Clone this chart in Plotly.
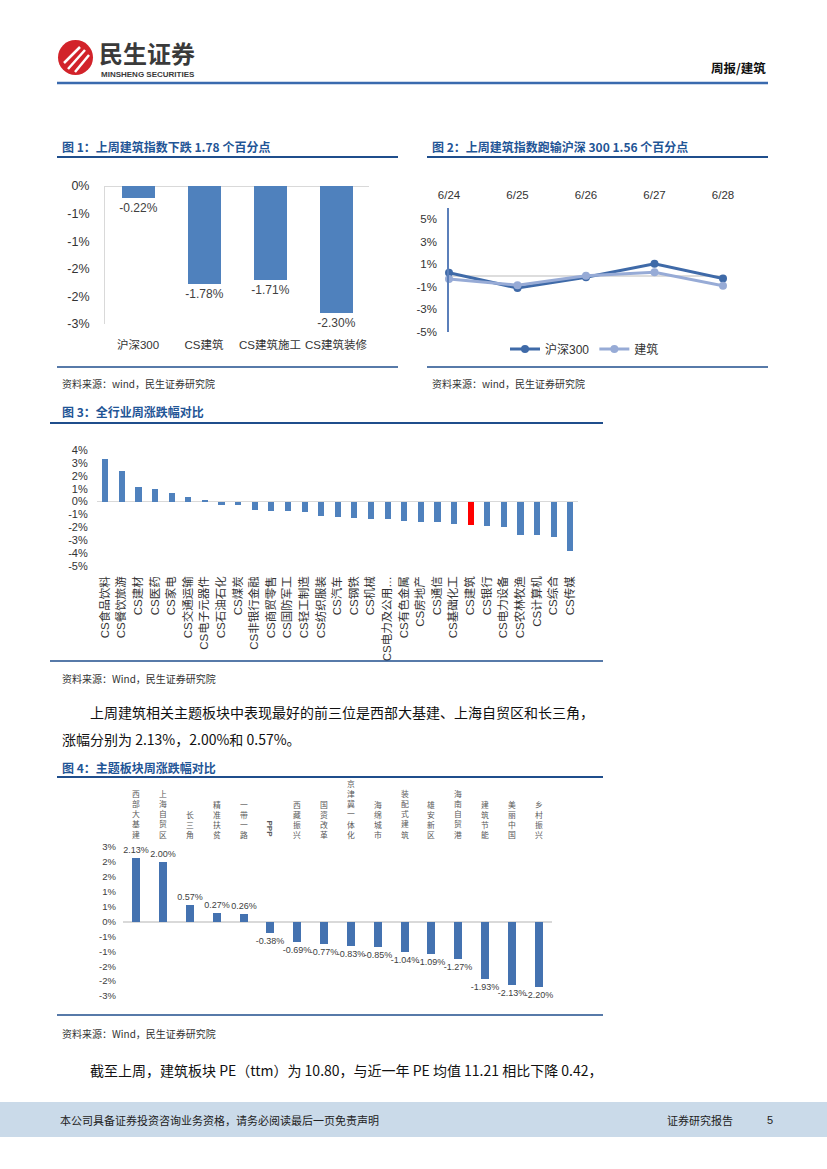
import plotly.graph_objects as go

W, H = 827, 1169


def X(px):
    return px / W


def Y(py):
    return 1 - py / H


FONT = "Arial, 'Liberation Sans', 'Noto Sans CJK SC', sans-serif"
CJK = "'Noto Sans CJK SC', sans-serif"
TITLE_C = "#1F5596"
BLUE = "#4F81BD"

# ---------------- data ----------------
# Chart 1
c1_cats = ["沪深300", "CS建筑", "CS建筑施工", "CS建筑装修"]
c1_vals = [-0.22, -1.78, -1.71, -2.30]
c1_tickvals = [0, -0.5, -1, -1.5, -2, -2.5]
c1_ticktext = ["0%", "-1%", "-1%", "-2%", "-2%", "-3%"]

# Chart 2
c2_dates = ["6/24", "6/25", "6/26", "6/27", "6/28"]
c2_hs300 = [0.25, -1.10, -0.15, 1.05, -0.25]
c2_jz = [-0.30, -0.85, 0.00, 0.30, -0.90]
c2_tickvals = [5, 3, 1, -1, -3, -5]
c2_ticktext = ["5%", "3%", "1%", "-1%", "-3%", "-5%"]

# Chart 3
c3_cats = ["CS食品饮料", "CS餐饮旅游", "CS建材", "CS医药", "CS家电", "CS交通运输",
           "CS电子元器件", "CS石油石化", "CS煤炭", "CS非银行金融", "CS商贸零售",
           "CS国防军工", "CS轻工制造", "CS纺织服装", "CS汽车", "CS钢铁", "CS机械",
           "CS电力及公用…", "CS有色金属", "CS房地产", "CS通信", "CS基础化工",
           "CS建筑", "CS银行", "CS电力设备", "CS农林牧渔", "CS计算机", "CS综合", "CS传媒"]
c3_vals = [3.33, 2.35, 1.11, 0.98, 0.70, 0.34, 0.10, -0.23, -0.26, -0.65, -0.70,
           -0.75, -0.80, -1.11, -1.19, -1.29, -1.32, -1.35, -1.50, -1.58, -1.60, -1.71,
           -1.78, -1.86, -1.96, -2.56, -2.58, -2.76, -3.83]
c3_highlight = "CS建筑"
c3_tickvals = [4, 3, 2, 1, 0, -1, -2, -3, -4, -5]
c3_ticktext = ["4%", "3%", "2%", "1%", "0%", "-1%", "-2%", "-3%", "-4%", "-5%"]

# Chart 4
c4_cats = ["西部大基建", "上海自贸区", "长三角", "精准扶贫", "一带一路", "PPP", "西藏振兴",
           "国资改革", "京津冀一体化", "海绵城市", "装配式建筑", "雄安新区", "海南自贸港",
           "建筑节能", "美丽中国", "乡村振兴"]
c4_vals = [2.13, 2.00, 0.57, 0.27, 0.26, -0.38, -0.69, -0.77, -0.83, -0.85, -1.04,
           -1.09, -1.27, -1.93, -2.13, -2.20]
c4_tickvals = [2.5, 2, 1.5, 1, 0.5, 0, -0.5, -1, -1.5, -2, -2.5]
c4_ticktext = ["3%", "2%", "2%", "1%", "1%", "0%", "-1%", "-1%", "-2%", "-2%", "-3%"]

# ---------------- figure ----------------
fig = go.Figure()

# Chart 1
fig.add_trace(go.Bar(
    x=c1_cats, y=c1_vals, xaxis="x", yaxis="y", width=0.5,
    marker=dict(color=BLUE, line=dict(width=0)),
    texttemplate="%{y:.2f}%", textposition="outside", constraintext="none",
    textfont=dict(family=FONT, size=12, color="#404040"),
    cliponaxis=False, showlegend=False, hoverinfo="skip"))

# Chart 2
fig.add_trace(go.Scatter(
    x=c2_dates, y=c2_hs300, xaxis="x2", yaxis="y2", name="沪深300",
    mode="lines+markers", line=dict(color="#3F6AA8", width=3),
    marker=dict(size=8, color="#3F6AA8"), cliponaxis=False))
fig.add_trace(go.Scatter(
    x=c2_dates, y=c2_jz, xaxis="x2", yaxis="y2", name="建筑",
    mode="lines+markers", line=dict(color="#97ABD6", width=3),
    marker=dict(size=8, color="#97ABD6"), cliponaxis=False))

# Chart 3
c3_colors = ["#FF0000" if c == c3_highlight else BLUE for c in c3_cats]
fig.add_trace(go.Bar(
    x=c3_cats, y=c3_vals, xaxis="x3", yaxis="y3", width=0.37,
    marker=dict(color=c3_colors, line=dict(width=0)),
    showlegend=False, hoverinfo="skip"))

# Chart 4
fig.add_trace(go.Bar(
    x=c4_cats, y=c4_vals, xaxis="x4", yaxis="y4", width=0.3,
    marker=dict(color="#4472B0", line=dict(width=0)),
    texttemplate="%{y:.2f}%", textposition="outside", constraintext="none",
    textfont=dict(family=FONT, size=9, color="#404040"),
    cliponaxis=False, showlegend=False, hoverinfo="skip"))

axis_common = dict(showgrid=False, zeroline=False, ticks="", fixedrange=True,
                   automargin=False)

fig.update_layout(
    template="none",
    width=W, height=H, margin=dict(l=0, r=0, t=0, b=0, pad=0, autoexpand=False),
    paper_bgcolor="white", plot_bgcolor="rgba(0,0,0,0)",
    font=dict(family=FONT, color="#333333"),
    bargap=0,
    xaxis=dict(domain=[X(105), X(369)], anchor="y", range=[-0.5, 3.5],
               type="category", tickangle=0, tickfont=dict(size=11.5, color="#333333"),
               ticklabelstandoff=12, **axis_common),
    yaxis=dict(domain=[Y(324), Y(186)], anchor="x", range=[-2.5, 0],
               tickvals=c1_tickvals, ticktext=c1_ticktext,
               tickfont=dict(size=12.5, color="#333333"), ticklabelstandoff=12,
               showline=True, linecolor="#D9D9D9", linewidth=1,
               showgrid=False, zeroline=True, zerolinecolor="#D9D9D9",
               zerolinewidth=1, ticks="", fixedrange=True, automargin=False),
    xaxis2=dict(domain=[X(449), X(723)], anchor="y2", side="top", range=[0, 4],
                type="category", tickangle=0, tickfont=dict(size=11.5, color="#333333"),
                ticklabelstandoff=6, **axis_common),
    yaxis2=dict(domain=[Y(332), Y(208)], anchor="x2", range=[-5, 6],
                tickvals=c2_tickvals, ticktext=c2_ticktext,
                tickfont=dict(size=11.5, color="#333333"), ticklabelstandoff=8,
                showline=True, linecolor="#5B7FBA", linewidth=1.5,
                showgrid=False, zeroline=True, zerolinecolor="#DDDDDD",
                zerolinewidth=1.5, ticks="", fixedrange=True, automargin=False),
    xaxis3=dict(domain=[X(96.7), X(578.3)], anchor="y3", range=[-0.5, 28.5],
                type="category", tickangle=-90,
                tickfont=dict(size=11.5, color="#333333"), ticklabelstandoff=7,
                **axis_common),
    yaxis3=dict(domain=[Y(566), Y(450)], anchor="x3", range=[-5, 4],
                tickvals=c3_tickvals, ticktext=c3_ticktext,
                tickfont=dict(size=11, color="#333333"), ticklabelstandoff=8,
                showgrid=False, zeroline=True, zerolinecolor="#D9D9D9",
                zerolinewidth=1, ticks="", fixedrange=True, automargin=False),
    xaxis4=dict(domain=[X(123), X(552)], anchor="y4", range=[-0.5, 15.5],
                type="category", showticklabels=False, **axis_common),
    yaxis4=dict(domain=[Y(996), Y(847)], anchor="x4", range=[-2.5, 2.5],
                tickvals=c4_tickvals, ticktext=c4_ticktext,
                tickfont=dict(size=9.5, color="#404040"), ticklabelstandoff=6,
                showgrid=False, zeroline=True, zerolinecolor="#D9D9D9",
                zerolinewidth=1.5, ticks="", fixedrange=True, automargin=False),
    legend=dict(orientation="h", x=X(505), y=Y(349), xanchor="left",
                yanchor="middle", font=dict(family=FONT, size=12, color="#333333"),
                bgcolor="rgba(0,0,0,0)", itemwidth=30),
)

shapes = []
annotations = []


def hline(y, x0, x1, color, width):
    shapes.append(dict(type="line", xref="paper", yref="paper",
                       x0=X(x0), x1=X(x1), y0=Y(y), y1=Y(y),
                       line=dict(color=color, width=width)))


def text(x, y, s, size, color="#333333", family=FONT, xanchor="left",
         yanchor="middle", bold=False, **kw):
    if bold:
        s = "<b>" + s + "</b>"
    annotations.append(dict(x=X(x), y=Y(y), xref="paper", yref="paper", text=s,
                            showarrow=False, xanchor=xanchor, yanchor=yanchor,
                            font=dict(family=family, size=size, color=color), **kw))


# Header
shapes.append(dict(type="circle", xref="paper", yref="paper",
                   x0=X(58), x1=X(93), y0=Y(75), y1=Y(40),
                   fillcolor="#D2232A", line=dict(width=0)))
for (ax0, ay0, ax1, ay1) in [(64, 63, 80, 47), (68, 69, 85, 50), (75, 72, 89, 55)]:
    shapes.append(dict(type="line", xref="paper", yref="paper",
                       x0=X(ax0), x1=X(ax1), y0=Y(ay0), y1=Y(ay1),
                       line=dict(color="white", width=2.5)))
text(97, 52, "民生证券", 24, color="#3A3A3A", family=CJK, bold=True)
text(99, 74, "MINSHENG SECURITIES", 8, color="#3A3A3A", bold=True)
text(768, 68, "周报/建筑", 12.5, color="#111111", family=CJK, xanchor="right", bold=True)
hline(83, 57, 768, "#3A6AAE", 2.5)

# Chart 1 frame
text(60, 146, "图 1：上周建筑指数下跌 1.78 个百分点", 12, color=TITLE_C, family=CJK, bold=True)
hline(157, 57, 398, "#1F4E8C", 1.8)
hline(367, 57, 398, "#1F4E8C", 1.5)
text(60, 383, "资料来源：wind，民生证券研究院", 10, color="#333333", family=CJK)

# Chart 2 frame
text(430, 146, "图 2：上周建筑指数跑输沪深 300 1.56 个百分点", 12, color=TITLE_C, family=CJK, bold=True)
hline(157, 427, 768, "#1F4E8C", 1.8)
hline(367, 427, 768, "#1F4E8C", 1.5)
text(430, 383, "资料来源：wind，民生证券研究院", 10, color="#333333", family=CJK)

# Chart 3 frame
text(60, 412, "图 3：全行业周涨跌幅对比", 12, color=TITLE_C, family=CJK, bold=True)
hline(423, 50, 603, "#1F4E8C", 1.8)
hline(661, 50, 603, "#1F4E8C", 1.5)
text(60, 678, "资料来源：Wind，民生证券研究院", 10, color="#333333", family=CJK)

# Body text 1
text(88, 712, "上周建筑相关主题板块中表现最好的前三位是西部大基建、上海自贸区和长三角，", 14,
     color="#111111", family=CJK)
text(60, 739, "涨幅分别为 2.13%，2.00%和 0.57%。", 14, color="#111111", family=CJK)

# Chart 4 frame
text(60, 767, "图 4：主题板块周涨跌幅对比", 12, color=TITLE_C, family=CJK, bold=True)
hline(777, 57, 603, "#1F4E8C", 1.8)
hline(1015, 57, 603, "#1F4E8C", 1.5)
text(60, 1033, "资料来源：Wind，民生证券研究院", 10, color="#333333", family=CJK)

# Chart 4 category labels (vertical, on top)
for cat in c4_cats:
    if cat == "PPP":
        annotations.append(dict(x=cat, y=Y(829), xref="x4", yref="paper", text="<b>PPP</b>",
                                showarrow=False, xanchor="center", yanchor="middle",
                                textangle=90, font=dict(family=FONT, size=8, color="#595959")))
    else:
        annotations.append(dict(x=cat, y=Y(842), xref="x4", yref="paper",
                                text="<br>".join(list(cat)), showarrow=False,
                                xanchor="center", yanchor="bottom",
                                font=dict(family=CJK, size=7.8, color="#595959")))

# Body text 2
text(88, 1070, "截至上周，建筑板块 PE（ttm）为 10.80，与近一年 PE 均值 11.21 相比下降 0.42，", 14,
     color="#111111", family=CJK)

# Footer
shapes.append(dict(type="rect", xref="paper", yref="paper", x0=0, x1=1,
                   y0=Y(1137), y1=Y(1102), fillcolor="#CADAE9", line=dict(width=0),
                   layer="below"))
text(58, 1120, "本公司具备证券投资咨询业务资格，请务必阅读最后一页免责声明", 11, color="#222222",
     family=CJK)
text(665, 1120, "证券研究报告", 11, color="#222222", family=CJK)
text(765, 1120, "5", 11, color="#222222")

fig.update_layout(shapes=shapes, annotations=annotations)

fig.write_html("out.html", config={"displayModeBar": False},
               post_script="document.body.style.margin='0';document.body.style.padding='0';")
